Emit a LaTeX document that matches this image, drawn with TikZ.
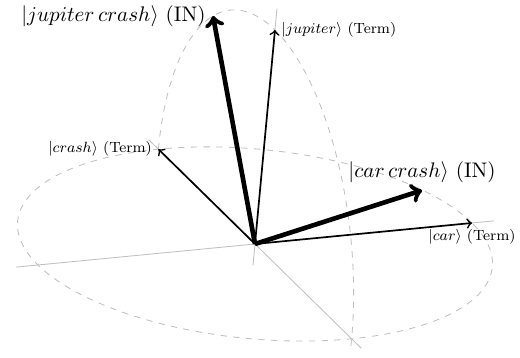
\documentclass[tikz,border=0pt]{standalone}
\usepackage{amsmath}
\usepackage{amssymb}

\begin{document}
\begin{tikzpicture}[x={(3.617cm,0.35cm)}, y={(-1.61cm,1.58cm)}, z={(0.333cm,3.567cm)},
	axis/.style={draw=black!25, thin},
	circ/.style={draw=black!25, thin, dashed},
	term/.style={draw=black, thick, ->},
	query/.style={draw=black, line width=2.2pt, ->},
	small/.style={font=\footnotesize, scale=0.88, transform shape}]
				\useasboundingbox (-4.25cm,-1.9cm) rectangle (4.4167cm,4.0667cm);
				
				\coordinate (o) at (0,0,0);
				\coordinate (car) at (1,0,0);
				\coordinate (crash) at (0,1,0);
				\coordinate (jupiter) at (0,0,1);
				\coordinate (carcrash) at (0.93,0.36,0);
				\coordinate (jupitercrash) at (0,0.6,0.8);
				
				\coordinate (xa) at (-1.1,0,0);
				\coordinate (xb) at (1.1,0,0);
				\coordinate (ya) at (0,-1.1,0);
				\coordinate (yb) at (0,1.1,0);
				\coordinate (za) at (0,0,-0.1);
				\coordinate (zb) at (0,0,1.1);
				
				% axes and circles
				\path (xa) edge[axis] (xb);
				\path (ya) edge[axis] (yb);
				\path (za) edge[axis] (zb);
				\draw[circ] plot[domain=0:360, samples=90, smooth] ({cos(\x)},{sin(\x)},0);
				\draw[circ] plot[domain=0:183, samples=60, smooth] (0,{cos(\x)},{sin(\x)});
				
				% vectors
				\path (o) edge[term] (car);
				\path (o) edge[term] (crash);
				\path (o) edge[term] (jupiter);
				\path (o) edge[query] (carcrash);
				\path (o) edge[query] (jupitercrash);
				
				\node[small, below] (carlabel) at (car) {$|car\rangle$ (Term)};
				\node[small, left] (crashlabel) at (crash) {$|crash\rangle$ (Term)};
				\node[small, right] (jupiterlabel) at (jupiter) {$|jupiter\rangle$ (Term)};
				\node[above] (carcrashlabel) at (carcrash) {$|car\,crash\rangle$ (IN)};
				\node[left] (jupitercrashlabel) at (jupitercrash) {$|jupiter\,crash\rangle$ (IN)};
\end{tikzpicture}
\end{document}
